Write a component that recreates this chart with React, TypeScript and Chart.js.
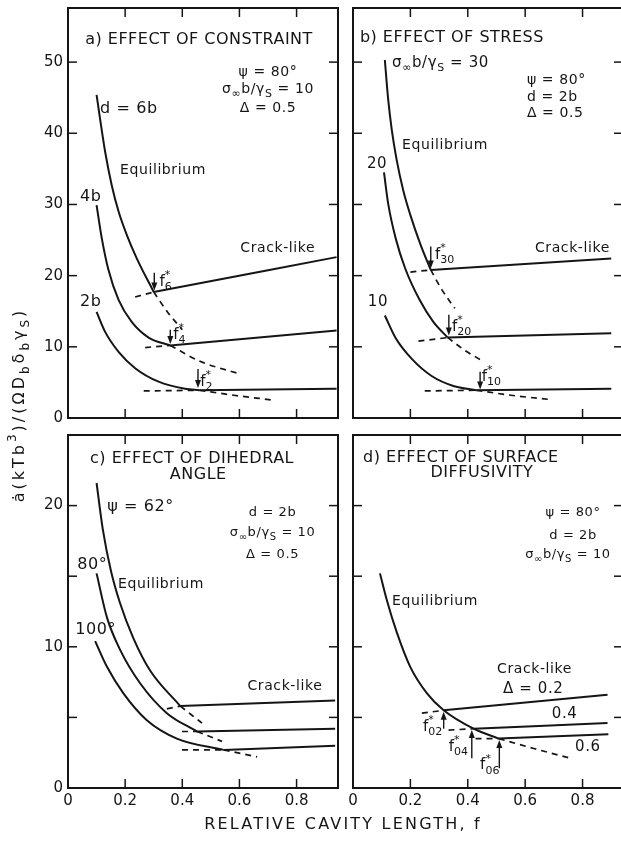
import React, { useEffect, useRef } from 'react';
import { Chart, registerables } from 'chart.js';

Chart.register(...registerables);

const FONT = '"DejaVu Sans", "Liberation Sans", sans-serif';
const INK = '#151515';

type P = [number, number];

// ---------- tick values ----------
const xTickValues = [0, 0.2, 0.4, 0.6, 0.8];
const yTicksTop = [0, 10, 20, 30, 40, 50];
const yTicksBottom = [0, 5, 10, 15, 20];
const yLabelsBottom = [0, 10, 20];

// ---------- (a) effect of constraint ----------
const aEq6: P[] = [[0.10, 45.4], [0.112, 42.1], [0.13, 37.4], [0.153, 32.7], [0.177, 29.0], [0.206, 25.7], [0.241, 22.4], [0.30, 17.7]];
const aEq6Dash: P[] = [[0.30, 17.7], [0.35, 14.8], [0.40, 12.4]];
const aCrack6: P[] = [[0.30, 17.7], [0.94, 22.6]];
const aCrack6Dash: P[] = [[0.235, 17.0], [0.30, 17.7]];

const aEq4: P[] = [[0.10, 29.9], [0.118, 25.3], [0.141, 20.9], [0.177, 16.6], [0.223, 13.5], [0.282, 11.3], [0.358, 10.2]];
const aEq4Dash: P[] = [[0.358, 10.2], [0.46, 8.0], [0.60, 6.2]];
const aCrack4: P[] = [[0.358, 10.2], [0.94, 12.3]];
const aCrack4Dash: P[] = [[0.27, 9.9], [0.358, 10.2]];

const aEq2: P[] = [[0.10, 14.9], [0.13, 12.1], [0.177, 9.3], [0.235, 7.0], [0.317, 5.1], [0.41, 4.1], [0.46, 3.9]];
const aEq2Dash: P[] = [[0.46, 3.9], [0.58, 3.2], [0.72, 2.5]];
const aCrack2: P[] = [[0.46, 3.9], [0.94, 4.1]];
const aCrack2Dash: P[] = [[0.265, 3.8], [0.46, 3.9]];

// ---------- (b) effect of stress ----------
const bEq30: P[] = [[0.111, 50.3], [0.122, 45.0], [0.135, 40.5], [0.152, 36.3], [0.175, 32.0], [0.20, 28.5], [0.235, 24.4], [0.271, 20.8]];
const bEq30Dash: P[] = [[0.271, 20.8], [0.31, 18.0], [0.355, 15.4]];
const bCrack30: P[] = [[0.271, 20.8], [0.90, 22.4]];
const bCrack30Dash: P[] = [[0.20, 20.5], [0.271, 20.8]];

const bEq20: P[] = [[0.108, 34.5], [0.123, 30.0], [0.149, 25.2], [0.182, 21.0], [0.232, 16.6], [0.28, 13.5], [0.33, 11.3]];
const bEq20Dash: P[] = [[0.33, 11.3], [0.39, 9.5], [0.448, 8.1]];
const bCrack20: P[] = [[0.33, 11.3], [0.90, 11.9]];
const bCrack20Dash: P[] = [[0.228, 10.8], [0.33, 11.3]];

const bEq10: P[] = [[0.111, 14.4], [0.149, 11.2], [0.205, 8.3], [0.274, 5.9], [0.35, 4.5], [0.43, 3.9]];
const bEq10Dash: P[] = [[0.43, 3.9], [0.55, 3.2], [0.686, 2.6]];
const bCrack10: P[] = [[0.43, 3.9], [0.90, 4.1]];
const bCrack10Dash: P[] = [[0.25, 3.8], [0.43, 3.9]];

// ---------- (c) effect of dihedral angle ----------
const cEq62: P[] = [[0.10, 21.6], [0.122, 18.3], [0.15, 15.4], [0.182, 13.1], [0.229, 10.6], [0.288, 8.3], [0.393, 5.8]];
const cEq62Dash: P[] = [[0.393, 5.8], [0.469, 4.6]];
const cCrack62: P[] = [[0.393, 5.8], [0.935, 6.2]];
const cCrack62Dash: P[] = [[0.346, 5.6], [0.393, 5.8]];

const cEq80: P[] = [[0.10, 15.2], [0.136, 12.1], [0.182, 9.8], [0.253, 7.4], [0.346, 5.3], [0.452, 4.0]];
const cEq80Dash: P[] = [[0.452, 4.0], [0.539, 3.3]];
const cCrack80: P[] = [[0.452, 4.0], [0.935, 4.2]];
const cCrack80Dash: P[] = [[0.399, 4.0], [0.452, 4.0]];

const cEq100: P[] = [[0.095, 10.4], [0.136, 8.6], [0.194, 6.7], [0.276, 4.8], [0.381, 3.5], [0.545, 2.7]];
const cEq100Dash: P[] = [[0.545, 2.7], [0.662, 2.2]];
const cCrack100: P[] = [[0.545, 2.7], [0.935, 3.0]];
const cCrack100Dash: P[] = [[0.399, 2.7], [0.545, 2.7]];

// ---------- (d) effect of surface diffusivity ----------
const dEq: P[] = [[0.094, 15.2], [0.118, 13.3], [0.153, 11.0], [0.199, 8.6], [0.258, 6.7], [0.316, 5.5], [0.42, 4.2], [0.508, 3.5]];
const dEqDash: P[] = [[0.508, 3.5], [0.63, 2.8], [0.759, 2.1]];
const dCrack02: P[] = [[0.316, 5.5], [0.887, 6.6]];
const dCrack02Dash: P[] = [[0.24, 5.3], [0.316, 5.5]];
const dCrack04: P[] = [[0.42, 4.2], [0.887, 4.6]];
const dCrack04Dash: P[] = [[0.333, 4.1], [0.42, 4.2]];
const dCrack06: P[] = [[0.508, 3.5], [0.89, 3.8]];
const dCrack06Dash: P[] = [[0.427, 3.5], [0.508, 3.5]];

// ---------- text helpers ----------
type Seg = [string, number]; // 0 normal, 1 subscript, 2 superscript, 3 superscript without advance
interface Note { x: number; y: number; segs: Seg[]; size?: number; align?: 'left' | 'center'; ls?: number }
interface Arrow { x: number; y1: number; y2: number }
interface Line { pts: P[]; dash?: boolean }
interface PanelDef {
  key: string;
  box: [number, number, number, number];
  openRight?: boolean;
  xMax: number;
  yMax: number;
  yTicks: number[];
  yLabels: number[];
  showX: boolean;
  showY: boolean;
  lines: Line[];
  notes: Note[];
  arrows: Arrow[];
  extra?: (ctx: CanvasRenderingContext2D, ca: any) => void;
}

const T = (s: string): Seg[] => [[s, 0]];
const sigma = (v: string): Seg[] => [['σ', 0], ['∞', 1], ['b/γ', 0], ['S', 1], [' = ' + v, 0]];
const fStar = (sub: string): Seg[] => [['f', 0], ['*', 3], [sub, 1]];

function drawSegs(ctx: CanvasRenderingContext2D, segs: Seg[], x: number, y: number, size: number, align: string, ls: number) {
  const small = Math.round(size * 0.75);
  const fontOf = (m: number) => `${m === 0 ? size : small}px ${FONT}`;
  ctx.save();
  (ctx as any).letterSpacing = ls + 'px';
  let w = 0;
  for (const [t, m] of segs) {
    if (m === 3) continue;
    ctx.font = fontOf(m);
    w += ctx.measureText(t).width;
  }
  let cx = align === 'center' ? x - w / 2 : x;
  ctx.textBaseline = 'middle';
  ctx.textAlign = 'left';
  ctx.fillStyle = INK;
  for (const [t, m] of segs) {
    ctx.font = fontOf(m);
    const dy = m === 1 ? size * 0.35 : m >= 2 ? -size * 0.45 : 0;
    ctx.fillText(t, cx, y + dy);
    if (m !== 3) cx += ctx.measureText(t).width;
  }
  ctx.restore();
}

const yTitle: Seg[] = [['ȧ', 0], ['(kTb', 0], ['3', 2], [')/(ΩD', 0], ['b', 1], ['δ', 0], ['b', 1], ['γ', 0], ['S', 1], [')', 0]];
const xTitle = 'RELATIVE CAVITY LENGTH, f';

const AXW = 40; // room reserved for y tick labels
const AXH = 30; // room reserved for x tick labels

// ---------- panels ----------
const PANELS: PanelDef[] = [
  {
    key: 'a', box: [68, 8, 338, 418], xMax: 0.945, yMax: 57.6, yTicks: yTicksTop, yLabels: yTicksTop, showX: false, showY: true,
    lines: [
      { pts: aEq6 }, { pts: aEq6Dash, dash: true }, { pts: aCrack6 }, { pts: aCrack6Dash, dash: true },
      { pts: aEq4 }, { pts: aEq4Dash, dash: true }, { pts: aCrack4 }, { pts: aCrack4Dash, dash: true },
      { pts: aEq2 }, { pts: aEq2Dash, dash: true }, { pts: aCrack2 }, { pts: aCrack2Dash, dash: true },
    ],
    notes: [
      { x: 0.06, y: 53.1, segs: T('a) EFFECT OF CONSTRAINT'), size: 16, ls: 0.5 },
      { x: 0.70, y: 48.6, segs: T('ψ = 80°'), align: 'center' },
      { x: 0.70, y: 46.2, segs: sigma('10'), align: 'center' },
      { x: 0.70, y: 43.5, segs: T('Δ = 0.5'), align: 'center' },
      { x: 0.112, y: 43.5, segs: T('d = 6b'), size: 16 },
      { x: 0.182, y: 34.8, segs: T('Equilibrium') },
      { x: 0.042, y: 31.0, segs: T('4b'), size: 16 },
      { x: 0.042, y: 16.3, segs: T('2b'), size: 16 },
      { x: 0.603, y: 23.9, segs: T('Crack-like') },
      { x: 0.32, y: 19.1, segs: fStar('6'), size: 15, ls: 0 },
      { x: 0.368, y: 11.7, segs: fStar('4'), size: 15, ls: 0 },
      { x: 0.463, y: 5.1, segs: fStar('2'), size: 15, ls: 0 },
    ],
    arrows: [{ x: 0.302, y1: 20.4, y2: 17.9 }, { x: 0.358, y1: 12.4, y2: 10.4 }, { x: 0.455, y1: 6.9, y2: 4.2 }],
  },
  {
    key: 'b', box: [353, 8, 621, 418], openRight: true, xMax: 0.934, yMax: 57.6, yTicks: yTicksTop, yLabels: [], showX: false, showY: false,
    lines: [
      { pts: bEq30 }, { pts: bEq30Dash, dash: true }, { pts: bCrack30 }, { pts: bCrack30Dash, dash: true },
      { pts: bEq20 }, { pts: bEq20Dash, dash: true }, { pts: bCrack20 }, { pts: bCrack20Dash, dash: true },
      { pts: bEq10 }, { pts: bEq10Dash, dash: true }, { pts: bCrack10 }, { pts: bCrack10Dash, dash: true },
    ],
    notes: [
      { x: 0.024, y: 53.4, segs: T('b) EFFECT OF STRESS'), size: 16, ls: 0.5 },
      { x: 0.136, y: 49.9, segs: sigma('30'), size: 15 },
      { x: 0.606, y: 47.5, segs: T('ψ = 80°') },
      { x: 0.606, y: 45.1, segs: T('d = 2b') },
      { x: 0.606, y: 42.8, segs: T('Δ = 0.5') },
      { x: 0.171, y: 38.3, segs: T('Equilibrium') },
      { x: 0.084, y: 35.7, segs: T('20'), size: 15, align: 'center' },
      { x: 0.087, y: 16.3, segs: T('10'), size: 15, align: 'center' },
      { x: 0.634, y: 23.9, segs: T('Crack-like') },
      { x: 0.286, y: 22.9, segs: fStar('30'), size: 15, ls: 0 },
      { x: 0.345, y: 12.8, segs: fStar('20'), size: 15, ls: 0 },
      { x: 0.449, y: 5.8, segs: fStar('10'), size: 15, ls: 0 },
    ],
    arrows: [{ x: 0.271, y1: 24.1, y2: 21.0 }, { x: 0.334, y1: 14.5, y2: 11.6 }, { x: 0.443, y1: 6.5, y2: 4.0 }],
  },
  {
    key: 'c', box: [68, 435, 338, 788], xMax: 0.945, yMax: 25, yTicks: yTicksBottom, yLabels: yLabelsBottom, showX: true, showY: true,
    lines: [
      { pts: cEq62 }, { pts: cEq62Dash, dash: true }, { pts: cCrack62 }, { pts: cCrack62Dash, dash: true },
      { pts: cEq80 }, { pts: cEq80Dash, dash: true }, { pts: cCrack80 }, { pts: cCrack80Dash, dash: true },
      { pts: cEq100 }, { pts: cEq100Dash, dash: true }, { pts: cCrack100 }, { pts: cCrack100Dash, dash: true },
    ],
    notes: [
      { x: 0.077, y: 23.3, segs: T('c) EFFECT OF DIHEDRAL'), size: 16, ls: 0.5 },
      { x: 0.456, y: 22.2, segs: T('ANGLE'), size: 16, ls: 0.5, align: 'center' },
      { x: 0.137, y: 19.9, segs: T('ψ = 62°'), size: 16 },
      { x: 0.716, y: 19.5, segs: T('d = 2b'), size: 13, align: 'center' },
      { x: 0.716, y: 18.1, segs: sigma('10'), size: 13, align: 'center' },
      { x: 0.716, y: 16.5, segs: T('Δ = 0.5'), size: 13, align: 'center' },
      { x: 0.032, y: 15.8, segs: T('80°'), size: 16 },
      { x: 0.025, y: 11.2, segs: T('100°'), size: 16 },
      { x: 0.175, y: 14.4, segs: T('Equilibrium') },
      { x: 0.628, y: 7.2, segs: T('Crack-like') },
    ],
    arrows: [],
    extra: (ctx, ca) => {
      ctx.save();
      ctx.translate(ca.left - 48, ca.top - 30);
      ctx.rotate(-Math.PI / 2);
      drawSegs(ctx, yTitle, 0, 0, 16, 'center', 3);
      ctx.restore();
      drawSegs(ctx, T(xTitle), ca.right + 5, ca.bottom + 37, 16, 'center', 2.2);
    },
  },
  {
    key: 'd', box: [353, 435, 621, 788], openRight: true, xMax: 0.934, yMax: 25, yTicks: yTicksBottom, yLabels: [], showX: true, showY: false,
    lines: [
      { pts: dEq }, { pts: dEqDash, dash: true },
      { pts: dCrack02 }, { pts: dCrack02Dash, dash: true },
      { pts: dCrack04 }, { pts: dCrack04Dash, dash: true },
      { pts: dCrack06 }, { pts: dCrack06Dash, dash: true },
    ],
    notes: [
      { x: 0.035, y: 23.4, segs: T('d) EFFECT OF SURFACE'), size: 16, ls: 0.5 },
      { x: 0.449, y: 22.3, segs: T('DIFFUSIVITY'), size: 16, ls: 0.5, align: 'center' },
      { x: 0.767, y: 19.5, segs: T('ψ = 80°'), size: 13, align: 'center' },
      { x: 0.767, y: 17.9, segs: T('d = 2b'), size: 13, align: 'center' },
      { x: 0.749, y: 16.5, segs: sigma('10'), size: 13, align: 'center' },
      { x: 0.136, y: 13.2, segs: T('Equilibrium') },
      { x: 0.502, y: 8.4, segs: T('Crack-like') },
      { x: 0.523, y: 7.0, segs: T('Δ = 0.2'), size: 15 },
      { x: 0.693, y: 5.2, segs: T('0.4'), size: 15 },
      { x: 0.774, y: 2.9, segs: T('0.6'), size: 15 },
      { x: 0.244, y: 4.3, segs: fStar('02'), size: 15, ls: 0 },
      { x: 0.334, y: 2.9, segs: fStar('04'), size: 15, ls: 0 },
      { x: 0.443, y: 1.6, segs: fStar('06'), size: 15, ls: 0 },
    ],
    arrows: [{ x: 0.316, y1: 4.2, y2: 5.4 }, { x: 0.414, y1: 2.1, y2: 4.1 }, { x: 0.51, y1: 1.4, y2: 3.4 }],
  },
];

function panelPlugin(p: PanelDef) {
  return {
    id: 'panel_' + p.key,
    afterDatasetsDraw(chart: any) {
      const { ctx, chartArea: ca, scales } = chart;
      const xs = scales.x;
      const ys = scales.y;
      const seg = (x1: number, y1: number, x2: number, y2: number) => {
        ctx.beginPath();
        ctx.moveTo(x1, y1);
        ctx.lineTo(x2, y2);
        ctx.stroke();
      };
      ctx.save();
      ctx.strokeStyle = INK;
      ctx.fillStyle = INK;
      ctx.lineWidth = 2;
      if (p.openRight) {
        ctx.beginPath();
        ctx.moveTo(ca.right + 2, ca.top);
        ctx.lineTo(ca.left, ca.top);
        ctx.lineTo(ca.left, ca.bottom);
        ctx.lineTo(ca.right + 2, ca.bottom);
        ctx.stroke();
      } else {
        ctx.strokeRect(ca.left, ca.top, ca.right - ca.left, ca.bottom - ca.top);
      }
      ctx.lineWidth = 1.5;
      const TL = 9;
      const rightX = p.openRight ? ca.right + 2 : ca.right;
      for (const v of xTickValues) {
        if (v === 0) continue;
        const px = xs.getPixelForValue(v);
        seg(px, ca.bottom, px, ca.bottom - TL);
        seg(px, ca.top, px, ca.top + TL);
      }
      for (const v of p.yTicks) {
        if (v === 0) continue;
        const py = ys.getPixelForValue(v);
        seg(ca.left, py, ca.left + TL, py);
        seg(rightX, py, rightX - TL, py);
      }
      ctx.lineWidth = 1.4;
      for (const a of p.arrows) {
        const px = xs.getPixelForValue(a.x);
        const p1 = ys.getPixelForValue(a.y1);
        const p2 = ys.getPixelForValue(a.y2);
        const dir = Math.sign(p2 - p1);
        seg(px, p1, px, p2 - dir * 4);
        ctx.beginPath();
        ctx.moveTo(px, p2);
        ctx.lineTo(px - 3, p2 - dir * 8);
        ctx.lineTo(px + 3, p2 - dir * 8);
        ctx.closePath();
        ctx.fill();
      }
      for (const n of p.notes) {
        drawSegs(ctx, n.segs, xs.getPixelForValue(n.x), ys.getPixelForValue(n.y), n.size ?? 14, n.align ?? 'left', n.ls ?? 0.6);
      }
      if (p.extra) p.extra(ctx, ca);
      ctx.restore();
    },
  };
}

function zeroPad(s: any) {
  s.paddingTop = 0;
  s.paddingBottom = 0;
  s.paddingLeft = 0;
  s.paddingRight = 0;
}

function buildConfig(p: PanelDef): any {
  return {
    type: 'line',
    data: {
      datasets: p.lines.map((l) => ({
        data: l.pts.map(([x, y]) => ({ x, y })),
        borderColor: INK,
        borderWidth: l.dash ? 1.7 : 2,
        borderDash: l.dash ? [6, 5] : [],
        pointRadius: 0,
        fill: false,
        tension: 0,
        cubicInterpolationMode: 'monotone',
      })),
    },
    options: {
      responsive: false,
      animation: false,
      events: [],
      layout: { padding: { left: p.box[0] - AXW, top: p.box[1], right: 621 - p.box[2], bottom: 842 - p.box[3] - AXH } },
      plugins: { legend: { display: false }, tooltip: { enabled: false }, title: { display: false } },
      scales: {
        x: {
          type: 'linear', min: 0, max: p.xMax,
          afterFit: (s: any) => { s.height = AXH; zeroPad(s); },
          grid: { display: false, drawTicks: false },
          border: { display: false },
          ticks: {
            display: p.showX, stepSize: 0.2, includeBounds: false, autoSkip: false, maxRotation: 0, minRotation: 0, padding: 4,
            color: INK, font: { family: FONT, size: 15 },
            callback: (v: number) => (xTickValues.some((t) => Math.abs(t - v) < 1e-6) ? (v === 0 ? '0' : v.toFixed(1)) : ''),
          },
        },
        y: {
          type: 'linear', min: 0, max: p.yMax,
          afterFit: (s: any) => { s.width = AXW; zeroPad(s); },
          grid: { display: false, drawTicks: false },
          border: { display: false },
          ticks: {
            display: p.showY, stepSize: p.yTicks[1] - p.yTicks[0], includeBounds: false, autoSkip: false, padding: 5,
            color: INK, font: { family: FONT, size: 15 },
            callback: (v: number) => (p.yLabels.includes(v) ? String(v) : ''),
          },
        },
      },
    },
    plugins: [panelPlugin(p)],
  };
}

function Panel({ def }: { def: PanelDef }) {
  const ref = useRef<HTMLCanvasElement>(null);
  useEffect(() => {
    const chart = new Chart(ref.current as HTMLCanvasElement, buildConfig(def));
    return () => chart.destroy();
  }, [def]);
  return <canvas ref={ref} width={621} height={842} style={{ position: 'absolute', left: 0, top: 0 }} />;
}

export default function App() {
  return (
    <div style={{ position: 'absolute', left: 0, top: 0, width: 621, height: 842, background: '#fff', overflow: 'hidden' }}>
      {PANELS.map((p) => (
        <Panel key={p.key} def={p} />
      ))}
    </div>
  );
}
